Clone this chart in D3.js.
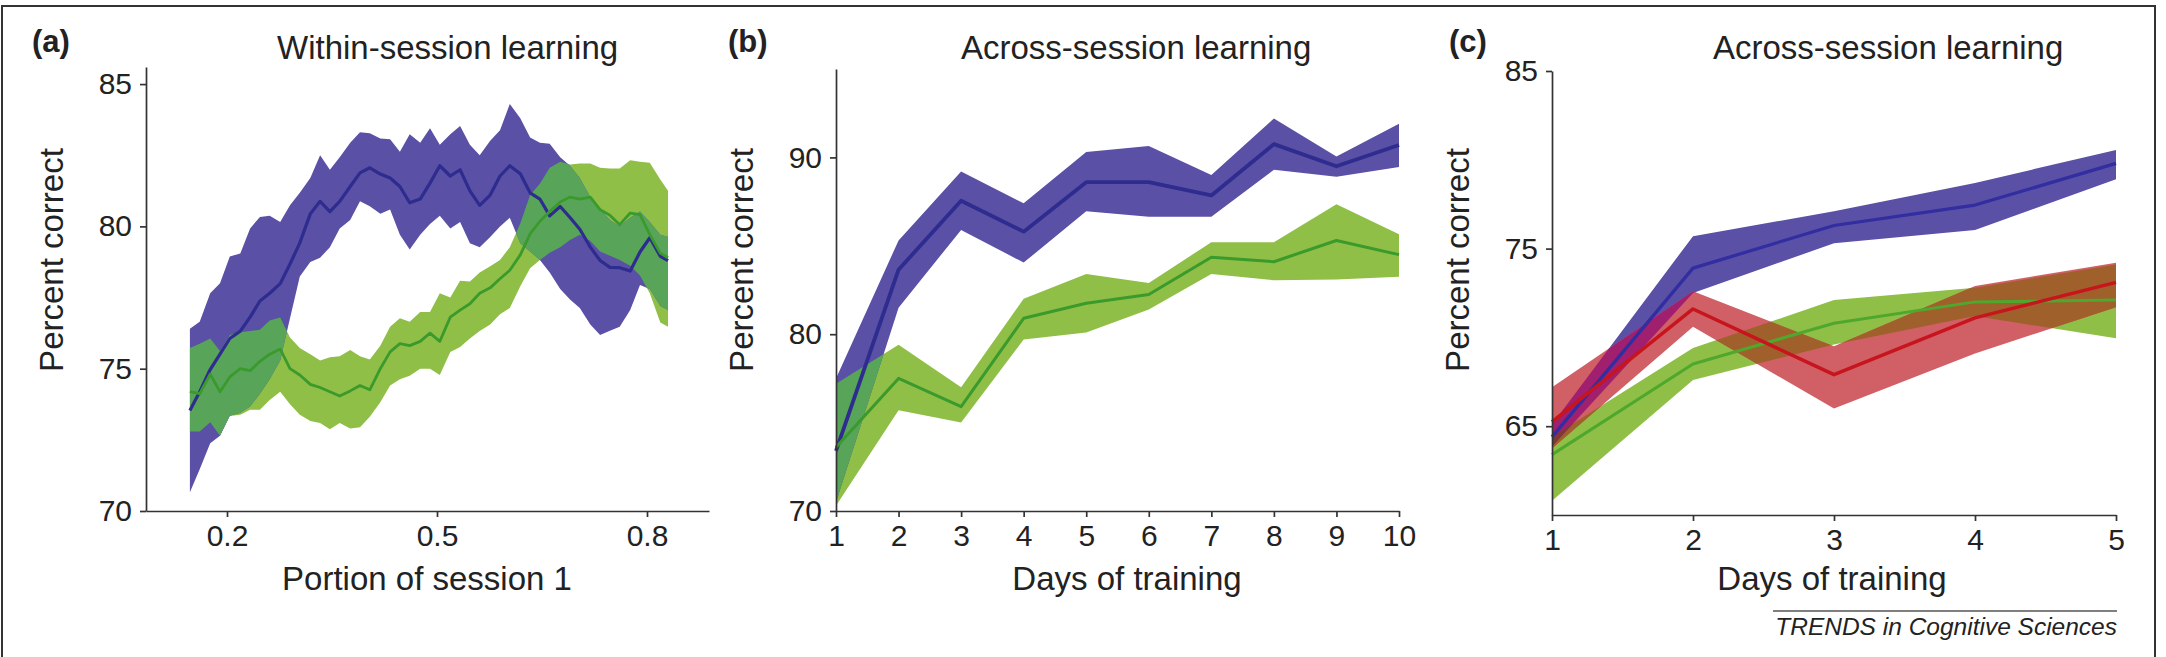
<!DOCTYPE html>
<html>
<head>
<meta charset="utf-8">
<script src="https://cdn.jsdelivr.net/npm/d3@7"></script>
<style>
  body { margin: 0; background: #fff; }
  svg { display: block; font-family: "Liberation Sans", Arial, Helvetica, sans-serif; }
  .axis path, .axis line { fill: none; stroke: #333; stroke-width: 1.7px; }
  .axis text { font-size: 30px; fill: #222; font-family: "Liberation Sans", Arial, sans-serif; }
  .lab { font-size: 33px; fill: #222; }
  .tag { font-size: 31px; font-weight: bold; fill: #222; }
</style>
</head>
<body>
<script>
// ---- panel (a): within-session learning ----
var portionA = [0.147, 0.161, 0.176, 0.190, 0.204, 0.219, 0.233, 0.247, 0.261, 0.276,
  0.290, 0.304, 0.319, 0.333, 0.347, 0.361, 0.376, 0.390, 0.404, 0.419,
  0.433, 0.447, 0.461, 0.476, 0.490, 0.504, 0.519, 0.533, 0.547, 0.561,
  0.576, 0.590, 0.604, 0.619, 0.633, 0.647, 0.661, 0.676, 0.690, 0.704,
  0.719, 0.733, 0.747, 0.761, 0.776, 0.790, 0.804, 0.819, 0.830];
var blueA = [73.53, 74.19, 74.97, 75.51, 76.06, 76.32, 76.81, 77.38, 77.65, 77.99,
  78.68, 79.42, 80.44, 80.88, 80.52, 80.88, 81.4, 81.88, 82.06, 81.84,
  81.7, 81.4, 80.83, 80.96, 81.52, 82.13, 81.77, 81.99, 81.25, 80.74,
  81.1, 81.77, 82.13, 81.85, 81.18, 80.96, 80.37, 80.7, 80.31, 79.9,
  79.27, 78.8, 78.56, 78.55, 78.43, 79.1, 79.6, 78.95, 78.8];
var blueAHi = [76.4, 76.65, 77.65, 78.0, 78.94, 79.05, 79.93, 80.33, 80.37, 80.15,
  80.74, 81.18, 81.7, 82.5, 81.99, 82.43, 82.94, 83.31, 83.27, 83.09,
  83.06, 82.62, 83.24, 82.94, 83.45, 82.87, 83.24, 83.53, 82.87, 82.5,
  83.01, 83.38, 84.3, 83.8, 83.12, 82.94, 82.9, 82.43, 82.13, 81.7,
  81.03, 80.59, 80.22, 80.0, 80.3, 80.52, 80.15, 79.71, 79.63];
var blueALo = [70.66, 71.47, 72.38, 72.64, 73.35, 73.45, 73.67, 74.12, 74.63, 75.29,
  76.77, 78.24, 78.75, 78.9, 79.27, 79.93, 80.22, 80.88, 80.71, 80.44,
  80.59, 79.71, 79.19, 79.71, 80.08, 80.37, 79.93, 80.15, 79.41, 79.27,
  79.63, 80.0, 80.3, 79.41, 79.12, 78.82, 78.38, 77.8, 77.43, 77.13,
  76.55, 76.18, 76.33, 76.47, 77.06, 77.94, 77.8, 77.2, 77.06];
var greenA = [74.19, 74.12, 74.81, 74.19, 74.71, 75.0, 74.93, 75.26, 75.51, 75.69,
  75.0, 74.78, 74.45, 74.34, 74.19, 74.04, 74.22, 74.41, 74.26, 75.0,
  75.59, 75.88, 75.81, 75.96, 76.25, 75.96, 76.81, 77.06, 77.28, 77.65,
  77.84, 78.16, 78.46, 79.0, 79.74, 80.18, 80.52, 80.86, 81.03, 80.96,
  81.03, 80.59, 80.39, 80.06, 80.47, 80.41, 79.71, 79.06, 78.9];
var greenAHi = [75.73, 75.88, 76.06, 75.62, 76.18, 76.28, 76.32, 76.37, 76.69, 76.8,
  76.1, 75.73, 75.51, 75.29, 75.4, 75.44, 75.66, 75.44, 75.32, 75.81,
  76.47, 76.77, 76.65, 76.99, 76.99, 77.65, 77.5, 78.09, 78.06, 78.38,
  78.6, 78.82, 79.27, 80.1, 81.1, 81.5, 82.06, 82.27, 82.17, 82.21,
  82.21, 82.06, 82.03, 82.03, 82.32, 82.27, 82.24, 81.65, 81.25];
var greenALo = [72.79, 72.79, 73.12, 72.64, 73.34, 73.38, 73.56, 73.56, 73.9, 74.19,
  73.75, 73.38, 73.16, 73.09, 72.87, 73.09, 72.9, 72.94, 73.31, 73.82,
  74.41, 74.63, 74.75, 75.0, 75.0, 74.78, 75.59, 75.76, 76.06, 76.32,
  76.55, 76.91, 77.13, 77.9, 78.53, 78.82, 79.07, 79.27, 79.52, 79.71,
  79.49, 79.12, 78.97, 78.82, 78.62, 78.27, 77.65, 76.62, 76.47];
var xTicksA = [0.2, 0.5, 0.8];
var yTicksA = [70, 75, 80, 85];

// ---- panel (b): across-session learning, 10 days ----
var daysB = [1, 2, 3, 4, 5, 6, 7, 8, 9, 10];
var blueB   = [73.4, 83.65, 87.55, 85.8, 88.6, 88.6, 87.85, 90.75, 89.5, 90.7];
var blueBHi = [77.5, 85.3, 89.2, 87.4, 90.3, 90.65, 89.0, 92.2, 90.05, 91.9];
var blueBLo = [70.5, 81.5, 85.9, 84.05, 86.95, 86.65, 86.65, 89.3, 88.9, 89.45];
var greenB   = [73.6, 77.5, 75.9, 80.9, 81.75, 82.25, 84.35, 84.1, 85.3, 84.5];
var greenBHi = [77.2, 79.4, 77.0, 82.0, 83.4, 82.9, 85.2, 85.2, 87.35, 85.65];
var greenBLo = [70.3, 75.7, 75.0, 79.7, 80.1, 81.4, 83.4, 83.05, 83.1, 83.25];
var yTicksB = [70, 80, 90];

// ---- panel (c): across-session learning, 5 days ----
var daysC = [1, 2, 3, 4, 5];
var blueC   = [64.4, 73.9, 76.3, 77.45, 79.8];
var blueCHi = [65.1, 75.7, 77.1, 78.7, 80.55];
var blueCLo = [63.85, 72.5, 75.3, 76.05, 78.9];
var greenC   = [63.4, 68.5, 70.8, 72.0, 72.1];
var greenCHi = [64.4, 69.4, 72.1, 72.8, 74.1];
var greenCLo = [60.8, 67.6, 69.6, 71.2, 69.95];
var redC   = [65.25, 71.6, 67.9, 71.1, 73.1];
var redCHi = [67.2, 72.6, 69.5, 72.9, 74.2];
var redCLo = [63.75, 70.6, 66.0, 69.1, 71.7];
var yTicksC = [65, 75, 85];

var col = {
  blue: "#5a50a6", blueLine: "#2e2c8e",
  green: "#90bf47", greenLine: "#3a9a2c",
  red: "#d05f66", redLine: "#c8141c",
  gb: "#58a55a", rg: "#a0602c", rb: "#a01f6e", rgb: "#7e3a36"
};

var W = 2166, H = 657;
var svg = d3.select("body").append("svg").attr("width", W).attr("height", H);
var defs = svg.append("defs");

// figure frame
svg.append("path").attr("d", "M2,657V6H2155V657")
  .attr("fill", "none").attr("stroke", "#333").attr("stroke-width", 2);

function zip(xs, m, hi, lo) {
  return xs.map(function(v, i) { return {x: v, m: m[i], hi: hi[i], lo: lo[i]}; });
}

function panel(p) {
  var g = svg.append("g");
  var x = d3.scaleLinear().domain(p.xDomain).range(p.xRange);
  var y = d3.scaleLinear().domain(p.yDomain).range(p.yRange);
  var area = d3.area().x(function(d) { return x(d.x); })
    .y0(function(d) { return y(d.lo); }).y1(function(d) { return y(d.hi); });
  var line = d3.line().x(function(d) { return x(d.x); }).y(function(d) { return y(d.m); });

  // clip paths for every band so overlaps can get their own colour
  p.series.forEach(function(s) {
    defs.append("clipPath").attr("id", p.id + s.name)
      .append("path").attr("d", area(s.data));
  });
  var byName = {};
  p.series.forEach(function(s) { byName[s.name] = s; });

  g.append("path").attr("d", area(byName.green.data)).attr("fill", col.green);
  g.append("path").attr("d", area(byName.blue.data)).attr("fill", col.blue);
  g.append("path").attr("d", area(byName.green.data)).attr("fill", col.gb)
    .attr("clip-path", "url(#" + p.id + "blue)");
  if (byName.red) {
    var r = byName.red.data;
    g.append("path").attr("d", area(r)).attr("fill", col.red);
    g.append("path").attr("d", area(r)).attr("fill", col.rg)
      .attr("clip-path", "url(#" + p.id + "green)");
    g.append("path").attr("d", area(r)).attr("fill", col.rb)
      .attr("clip-path", "url(#" + p.id + "blue)");
    g.append("g").attr("clip-path", "url(#" + p.id + "green)")
      .append("path").attr("d", area(r)).attr("fill", col.rgb)
      .attr("clip-path", "url(#" + p.id + "blue)");
  }
  p.series.forEach(function(s) {
    g.append("path").attr("d", line(s.data)).attr("fill", "none")
      .attr("stroke", s.stroke).attr("stroke-width", s.width || 3)
      .attr("stroke-linejoin", "round");
  });

  g.append("g").attr("class", "axis")
    .attr("transform", "translate(0," + p.yRange[0] + ")")
    .call(d3.axisBottom(x).tickValues(p.xTicks).tickSize(6).tickPadding(8).tickSizeOuter(0)
      .tickFormat(p.xFormat || d3.format("d")));
  g.append("g").attr("class", "axis")
    .attr("transform", "translate(" + p.xRange[0] + ",0)")
    .call(d3.axisLeft(y).tickValues(p.yTicks).tickSize(6).tickPadding(8).tickSizeOuter(0));

  g.append("text").attr("class", "tag").attr("x", p.tagX).attr("y", 52).text(p.tag);
  g.append("text").attr("class", "lab").attr("x", p.titleX).attr("y", 59).text(p.title);
  g.append("text").attr("class", "lab").attr("text-anchor", "middle")
    .attr("x", p.xLabelX).attr("y", 590).text(p.xLabel);
  g.append("text").attr("class", "lab").attr("text-anchor", "middle")
    .attr("transform", "translate(" + (p.xRange[0] - 83) + ",260) rotate(-90)")
    .text("Percent correct");
}

panel({
  id: "a", tag: "(a)", tagX: 32, title: "Within-session learning", titleX: 277,
  xLabel: "Portion of session 1", xLabelX: 427,
  xDomain: [0.2 - 81 / 700, 0.2 + 482 / 700], xRange: [146, 709],
  yDomain: [70, 85.6], yRange: [511, 67],
  xTicks: xTicksA, yTicks: yTicksA, xFormat: d3.format(".1f"),
  series: [
    {name: "blue", data: zip(portionA, blueA, blueAHi, blueALo), stroke: col.blueLine, width: 3.2},
    {name: "green", data: zip(portionA, greenA, greenAHi, greenALo), stroke: col.greenLine, width: 2.8}
  ]
});

panel({
  id: "b", tag: "(b)", tagX: 728, title: "Across-session learning", titleX: 961,
  xLabel: "Days of training", xLabelX: 1127,
  xDomain: [1, 10], xRange: [836, 1399],
  yDomain: [70, 95], yRange: [511, 69],
  xTicks: daysB, yTicks: yTicksB,
  series: [
    {name: "blue", data: zip(daysB, blueB, blueBHi, blueBLo), stroke: col.blueLine, width: 3.8},
    {name: "green", data: zip(daysB, greenB, greenBHi, greenBLo), stroke: col.greenLine, width: 3}
  ]
});

panel({
  id: "c", tag: "(c)", tagX: 1449, title: "Across-session learning", titleX: 1713,
  xLabel: "Days of training", xLabelX: 1832,
  xDomain: [1, 5], xRange: [1552, 2116],
  yDomain: [60, 85], yRange: [515, 71],
  xTicks: daysC, yTicks: yTicksC,
  series: [
    {name: "green", data: zip(daysC, greenC, greenCHi, greenCLo), stroke: "#4fa82e", width: 3},
    {name: "blue", data: zip(daysC, blueC, blueCHi, blueCLo), stroke: "#322da0", width: 3.2},
    {name: "red", data: zip(daysC, redC, redCHi, redCLo), stroke: col.redLine, width: 3.5}
  ]
});

// journal footer
svg.append("line").attr("x1", 1773).attr("x2", 2117).attr("y1", 611).attr("y2", 611)
  .attr("stroke", "#555").attr("stroke-width", 1.5);
svg.append("text").attr("x", 2117).attr("y", 635).attr("text-anchor", "end")
  .style("font-size", "24.5px").style("font-style", "italic").attr("fill", "#222")
  .text("TRENDS in Cognitive Sciences");
</script>
</body>
</html>
